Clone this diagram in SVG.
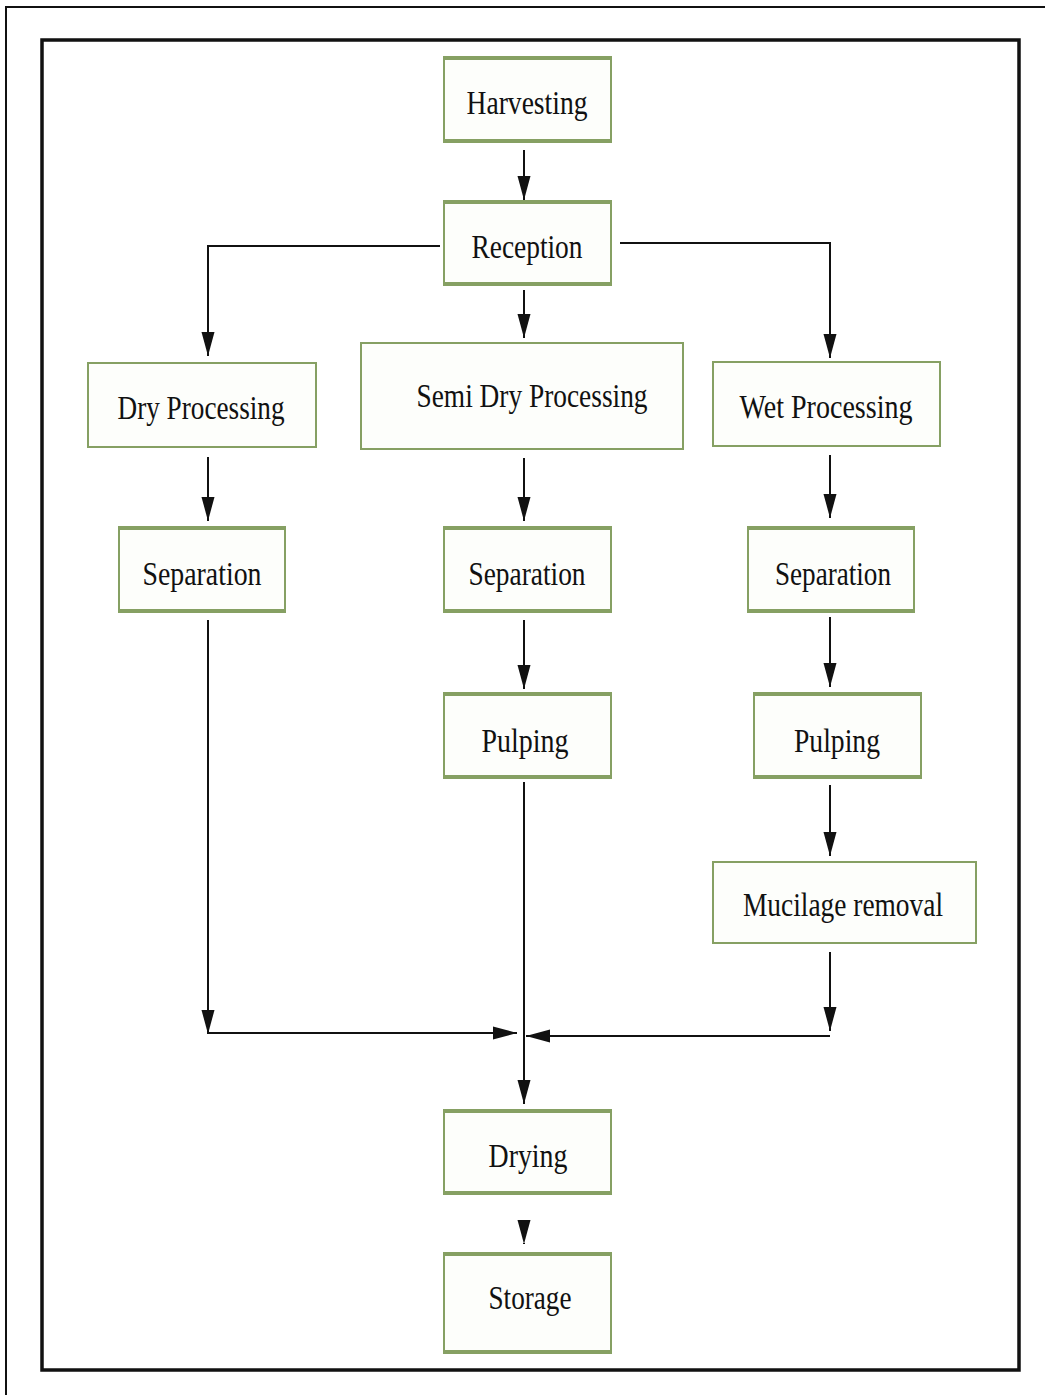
<svg xmlns="http://www.w3.org/2000/svg" width="1045" height="1395" viewBox="0 0 1045 1395">
<defs>
<marker id="ah" viewBox="0 0 24 14" refX="24" refY="7" markerWidth="24" markerHeight="14" markerUnits="userSpaceOnUse" orient="auto">
<path d="M0,0.5 L24,7 L0,13.5 Z" fill="#111"/>
</marker>
<style>
.box{fill:#fdfefb;stroke:#86a063;stroke-width:2}
.edge{stroke:#86a063;stroke-width:4}
.lbl{font-family:"Liberation Serif","Times New Roman",serif;font-size:33px;fill:#111;text-anchor:middle}
.c{fill:none;stroke:#111;stroke-width:2;marker-end:url(#ah)}
</style>
</defs>
<rect x="0" y="0" width="1045" height="1395" fill="#fff"/>
<path d="M6,1395 V7 H1045" fill="none" stroke="#111" stroke-width="2"/>
<rect x="42" y="40" width="977" height="1330" fill="none" stroke="#111" stroke-width="3.5"/>

<g id="harvesting"><rect class="box" x="444" y="57" width="167" height="85"/><path class="edge" d="M444,58H611M444,141H611"/><text class="lbl" x="527" y="114" textLength="121" lengthAdjust="spacingAndGlyphs">Harvesting</text></g>
<g id="reception"><rect class="box" x="444" y="201" width="167" height="84"/><path class="edge" d="M444,202H611M444,284H611"/><text class="lbl" x="527" y="258" textLength="111" lengthAdjust="spacingAndGlyphs">Reception</text></g>
<g id="dry"><rect class="box" x="88" y="363" width="228" height="84"/><text class="lbl" x="201" y="419" textLength="167" lengthAdjust="spacingAndGlyphs">Dry Processing</text></g>
<g id="semidry"><rect class="box" x="361" y="343" width="322" height="106"/><text class="lbl" x="532" y="407" textLength="231" lengthAdjust="spacingAndGlyphs">Semi Dry Processing</text></g>
<g id="wet"><rect class="box" x="713" y="362" width="227" height="84"/><text class="lbl" x="826" y="418" textLength="173" lengthAdjust="spacingAndGlyphs">Wet Processing</text></g>
<g id="sep-dry"><rect class="box" x="119" y="527" width="166" height="85"/><path class="edge" d="M119,528H285M119,611H285"/><text class="lbl" x="202" y="585" textLength="119" lengthAdjust="spacingAndGlyphs">Separation</text></g>
<g id="sep-semi"><rect class="box" x="444" y="527" width="167" height="85"/><path class="edge" d="M444,528H611M444,611H611"/><text class="lbl" x="527" y="585" textLength="117" lengthAdjust="spacingAndGlyphs">Separation</text></g>
<g id="sep-wet"><rect class="box" x="748" y="527" width="166" height="85"/><path class="edge" d="M748,528H914M748,611H914"/><text class="lbl" x="833" y="585" textLength="116" lengthAdjust="spacingAndGlyphs">Separation</text></g>
<g id="pulp-semi"><rect class="box" x="444" y="693" width="167" height="85"/><path class="edge" d="M444,694H611M444,777H611"/><text class="lbl" x="525" y="752" textLength="87" lengthAdjust="spacingAndGlyphs">Pulping</text></g>
<g id="pulp-wet"><rect class="box" x="754" y="693" width="167" height="85"/><path class="edge" d="M754,694H921M754,777H921"/><text class="lbl" x="837" y="752" textLength="86" lengthAdjust="spacingAndGlyphs">Pulping</text></g>
<g id="mucilage"><rect class="box" x="713" y="862" width="263" height="81"/><text class="lbl" x="843" y="916" textLength="200" lengthAdjust="spacingAndGlyphs">Mucilage removal</text></g>
<g id="drying"><rect class="box" x="444" y="1110" width="167" height="84"/><path class="edge" d="M444,1111H611M444,1193H611"/><text class="lbl" x="528" y="1167" textLength="79" lengthAdjust="spacingAndGlyphs">Drying</text></g>
<g id="storage"><rect class="box" x="444" y="1253" width="167" height="100"/><path class="edge" d="M444,1254H611M444,1352H611"/><text class="lbl" x="530" y="1309" textLength="83" lengthAdjust="spacingAndGlyphs">Storage</text></g>

<g id="connectors">
<path class="c" d="M524,150V200"/>
<path class="c" d="M440,246H208V356"/>
<path class="c" d="M620,243H830V358"/>
<path class="c" d="M524,290V338"/>
<path class="c" d="M208,457V521"/>
<path class="c" d="M524,458V521"/>
<path class="c" d="M830,455V518"/>
<path class="c" d="M524,620V689"/>
<path class="c" d="M830,617V687"/>
<path class="c" d="M830,785V856"/>
<path class="c" d="M208,620V1034"/>
<path class="c" d="M208,1033H517"/>
<path class="c" d="M830,952V1031"/>
<path class="c" d="M830,1036H526"/>
<path class="c" d="M524,782V1104"/>
<path class="c" d="M524,1243V1244"/>
</g>
</svg>
